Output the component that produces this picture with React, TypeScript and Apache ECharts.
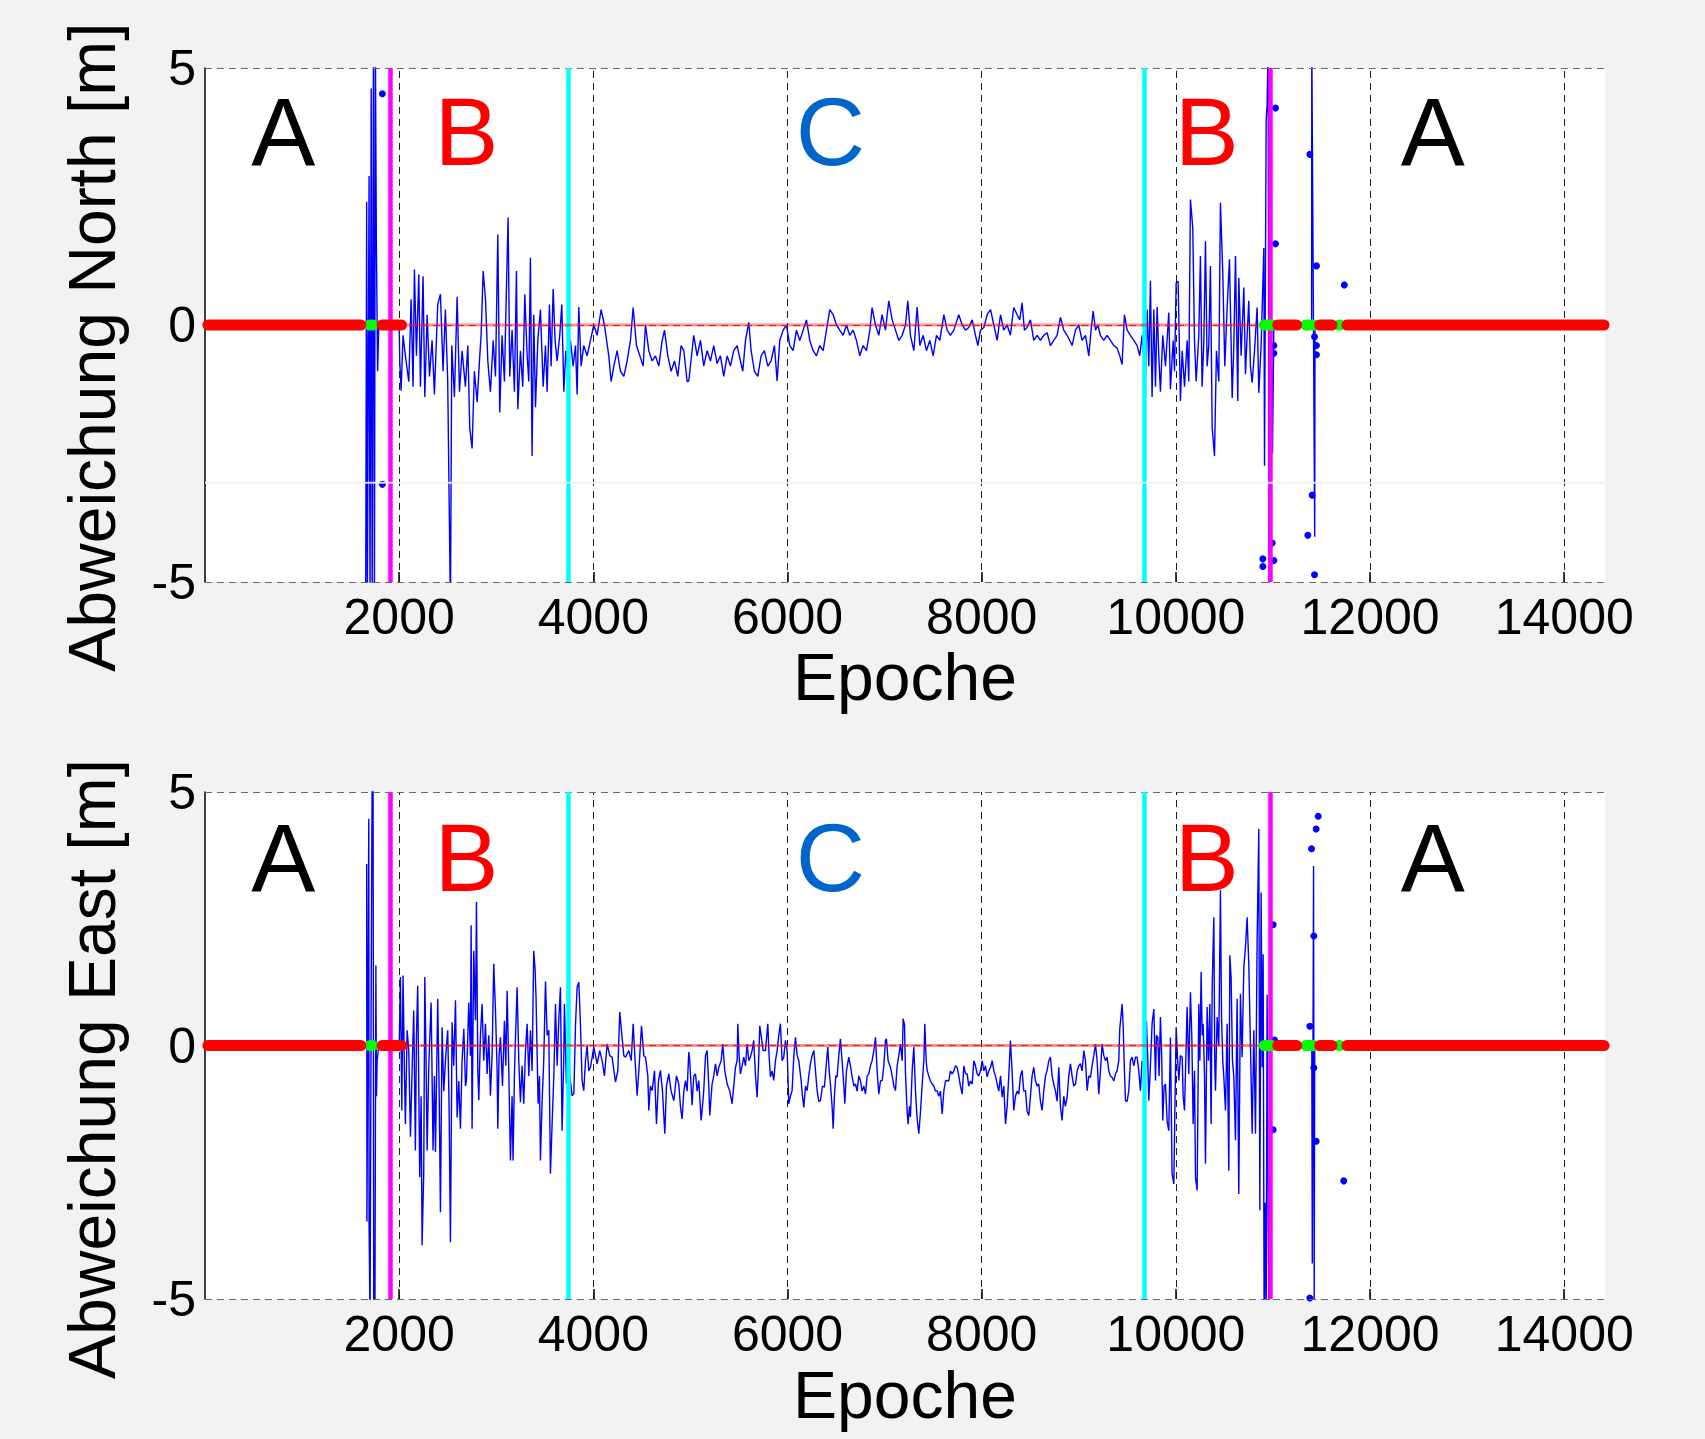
import React, { useEffect, useRef } from "react";
import * as echarts from "echarts";

const FONT = "'Liberation Sans', Arial, Helvetica, sans-serif";
const X_MAX = 14420;
const xTicks = [2000, 4000, 6000, 8000, 10000, 12000, 14000];
const yTicks = [-5, 0, 5];
const cyanX = [3744, 9670];
const magentaX = [1910, 10968];
const redSegments = [[30, 1606], [1823, 2024], [11049, 11244], [11481, 11608], [11762, 14410]];
const greenSegments = [[1700, 1725], [10911, 10990], [11340, 11420], [11680, 11690]];
const letters = ["A", "B", "C", "B", "A"];
const letterX = [806, 2693, 6442, 10317, 12646];
const letterColors = ["#000000", "#ff0000", "#0066cc", "#ff0000", "#000000"];
const letterYNorth = 3.77;
const letterYEast = 3.71;
const northFaintY = -3.07;

const northLine: [number, number][] = [
  [1655,-5.5],[1665,2.4],[1672,-5.5],[1690,2.9],[1700,-5.5],[1712,4.6],[1722,-5.5],[1735,5.5],[1745,-5.5],[1755,5.5],[1765,1.6],[1778,-0.9],[1790,0],[2000,0],
  [2006,-0.7],[2020,-1.28],[2040,-0.2],[2064,-0.6],[2099,-1.1],[2123,0.5],[2143,-1.2],[2157,1.08],[2178,-0.6],[2202,0.98],[2219,-1.2],[2246,0.95],[2264,-1.4],[2288,0.2],[2312,-1.0],[2339,-0.3],[2363,-1.35],[2397,0.4],[2425,0.6],[2452,-0.9],[2476,0.3],[2500,-1.1],[2528,-5.5],[2542,-0.4],[2569,-1.4],[2597,0.55],[2621,-1.3],[2648,-0.5],[2682,-1.2],[2707,-0.4],[2727,-2.0],[2751,-2.4],[2775,-0.9],[2803,-1.5],[2830,-0.6],[2844,-0.2],[2865,1.05],[2889,0.5],[2913,-0.7],[2940,-1.3],[2968,-0.3],[2992,-1.0],[3016,1.76],[3036,-1.7],[3060,-0.2],[3084,-1.1],[3101,0.4],[3122,2.09],[3139,-1.0],[3163,-0.1],[3187,-1.3],[3208,1.05],[3222,-1.64],[3249,-0.5],[3273,-1.2],[3294,0.6],[3318,-0.6],[3335,-1.1],[3352,1.31],[3369,-2.55],[3386,0.2],[3404,-1.6],[3428,-0.3],[3455,0.3],[3483,-1.2],[3507,-0.4],[3524,-1.3],[3548,0.4],[3565,-0.8],[3586,0.7],[3606,-0.3],[3627,-0.7],[3654,-0.2],[3675,0.4],[3696,-1.3],[3716,-0.5],[3737,-0.9],[3764,-0.3],[3792,-0.8],[3816,-0.4],[3833,-1.35],[3850,0.35],[3874,-0.8],[3901,-0.4],[3936,-0.6],[3970,-0.3],[4005,0.0],[4039,-0.2],[4080,0.3],[4114,0.0],[4159,-0.6],[4183,-1.1],[4211,-0.8],[4245,-0.5],[4279,-0.9],[4314,-1.0],[4348,-0.7],[4382,-0.3],[4410,0.34],[4444,-0.4],[4479,-0.6],[4513,-0.8],[4537,0.0],[4571,-0.5],[4606,-0.7],[4640,-0.6],[4674,-0.8],[4709,-0.3],[4733,-0.1],[4767,-0.6],[4801,-0.9],[4836,-0.7],[4870,-1.0],[4904,-0.4],[4932,-0.5],[4966,-1.1],
  [4983,-1.09],[5034,-0.2],[5069,-0.6],[5103,-0.3],[5137,-0.8],[5172,-0.5],[5206,-0.7],[5240,-0.4],[5275,-0.75],[5309,-0.6],[5343,-1.0],[5378,-0.6],[5412,-0.8],[5446,-0.5],[5481,-0.4],[5515,-0.7],[5539,-0.9],[5567,-0.3],[5601,0.05],[5625,-0.5],[5659,-0.9],[5694,-1.0],[5728,-0.6],[5762,-0.5],[5797,-0.8],[5831,-0.7],[5865,-0.4],[5893,-1.09],[5920,-0.3],[5955,-0.1],[5989,0.0],[6023,-0.4],[6058,-0.5],[6092,-0.1],[6126,-0.3],[6161,-0.1],[6195,0.1],[6229,-0.3],[6264,-0.5],[6298,-0.6],[6332,-0.4],[6367,-0.5],[6401,-0.1],[6435,0.3],[6470,0.2],[6504,0.0],[6538,-0.1],[6573,-0.2],[6607,0.0],[6641,-0.2],[6676,-0.1],[6710,-0.3],[6744,-0.6],[6779,-0.4],[6813,-0.5],[6848,-0.1],[6871,0.34],[6906,0.0],[6940,-0.2],[6974,0.2],[7009,-0.1],[7043,0.47],[7078,0.1],[7112,-0.1],[7146,-0.3],[7181,-0.2],[7215,0.0],[7239,0.47],[7266,-0.2],[7301,-0.5],[7335,0.35],[7363,-0.4],[7397,-0.2],[7431,-0.5],[7466,-0.3],[7500,-0.6],[7534,-0.2],[7569,-0.3],[7610,0.2],[7644,-0.1],[7678,-0.2],[7713,-0.1],[7764,0.2],[7799,0.0],[7833,-0.1],[7867,-0.05],[7902,0.1],[7936,-0.2],[7960,-0.4],[7988,-0.1],[8022,-0.05],[8056,0.2],[8091,0.3],[8125,0.0],[8159,-0.3],[8194,0.2],
  [8227,-0.1],[8262,0.0],[8296,-0.2],[8330,0.34],[8365,0.2],[8392,0.1],[8416,0.43],[8440,-0.1],[8468,-0.05],[8502,0.1],[8536,-0.3],[8571,-0.2],[8605,-0.3],[8639,-0.2],[8674,-0.15],[8708,-0.4],[8742,-0.3],[8777,-0.2],[8811,0.15],[8845,-0.1],[8880,-0.2],[8907,-0.3],[8931,-0.4],[8966,-0.1],[9000,0.0],[9034,-0.3],[9069,-0.2],[9103,-0.6],[9127,-0.1],[9148,0.27],[9172,-0.1],[9196,0.0],[9223,-0.2],[9258,-0.3],[9292,-0.2],[9326,-0.3],[9361,-0.4],[9395,-0.45],[9422,-0.6],[9446,-0.77],[9470,0.2],[9498,-0.1],[9532,-0.2],[9567,-0.3],[9601,-0.4],[9628,-0.6],[9652,-0.2],[9687,-1.0],[9704,0.3],[9721,-0.8],[9738,0.86],[9755,-1.4],[9773,0.3],[9790,-1.2],[9807,0.35],[9824,-0.6],[9841,-1.3],[9865,-0.2],[9893,-0.8],[9927,0.24],[9944,-1.25],[9972,-0.3],[9986,-0.9],[10003,0.82],[10023,0.85],[10047,-1.48],[10065,-0.5],[10089,-1.2],[10116,-0.3],[10133,-1.1],[10150,2.44],[10174,1.89],[10192,-0.3],[10209,-1.1],[10236,-0.2],[10253,1.34],[10270,-1.2],[10288,-0.3],[10305,1.63],[10322,-0.8],[10339,-0.4],[10356,1.15],[10374,-2.0],[10398,-2.55],[10418,-0.5],[10442,-1.1],[10459,2.38],[10483,1.02],[10504,-0.8],[10528,0.34],[10552,1.28],[10580,-1.42],[10597,-0.4],[10614,1.34],[10638,-1.48],[10648,0.92],[10672,-0.6],[10700,0.73],[10717,-0.96],[10734,-0.2],[10751,0.47],[10768,-0.8],[10786,-1.12],[10810,-0.5],[10837,0.34],[10854,-1.32],[10878,-0.4],[10906,1.5],[10913,-2.74],[10930,3.97],[10940,4.3],[10950,5.5],[10961,-5.5],[10981,0.7],[10995,-2.5],[11009,0],
  [11398,0],[11400,5.5],[11430,-4.12],[11433,0]
];

const eastLine: [number, number][] = [
  [1665,3.58],[1668,-3.47],[1687,4.47],[1690,-3.5],[1700,-5.5],[1712,1.2],[1722,5.5],[1731,5.5],[1738,-5.5],[1750,-5.5],[1760,1.58],[1766,-1.0],[1773,-0.3],[1790,0],[2000,0],
  [2013,1.35],[2027,-1.28],[2040,1.38],[2054,-0.5],[2064,-1.55],[2082,0.3],[2099,-0.1],[2116,-1.8],[2133,-0.5],[2150,0.69],[2167,-2.07],[2178,0.2],[2191,1.18],[2212,-2.6],[2226,-1.0],[2236,-3.94],[2253,-2.5],[2264,1.35],[2277,-0.3],[2288,-2.07],[2305,-0.4],[2329,0.85],[2349,-2.07],[2363,-0.6],[2374,-2.1],[2397,0.92],[2411,-0.8],[2425,-3.29],[2442,0.36],[2459,-0.9],[2480,-0.2],[2500,0.3],[2514,-1.2],[2528,-3.88],[2545,0.46],[2562,-0.4],[2580,0.89],[2597,-1.42],[2614,-0.7],[2631,-1.64],[2648,-0.3],[2666,0.33],[2683,-0.8],[2693,-0.69],[2717,0.85],[2734,-0.2],[2741,2.37],[2751,-1.64],[2768,1.87],[2786,0.5],[2796,2.83],[2810,-0.5],[2820,-1.08],[2837,0.2],[2854,0.82],[2871,-0.3],[2889,0.43],[2906,-0.56],[2923,0.2],[2940,-0.99],[2957,-0.2],[2974,1.61],[2992,0.69],[3009,-0.5],[3016,-1.64],[3029,-0.2],[3043,0.16],[3064,-0.8],[3084,0.49],[3098,-0.4],[3112,1.08],[3129,-0.5],[3146,-2.27],[3163,-1.0],[3173,-2.27],[3187,-0.6],[3198,0.16],[3215,1.15],[3232,-0.3],[3249,-1.12],[3266,-0.4],[3283,-1.15],[3301,-0.1],[3318,0.43],[3335,-0.6],[3352,0.3],[3369,-0.5],[3386,1.87],[3400,1.5],[3410,0.92],[3431,-1.15],[3445,-0.6],[3455,-2.27],[3472,-1.12],[3489,-0.3],[3507,1.26],[3524,0.2],[3541,0.3],[3558,-2.53],[3575,-1.55],[3593,-0.6],[3610,0.82],[3627,-0.4],[3644,0.5],[3661,1.15],[3678,-1.68],[3696,-0.2],[3702,0.82],[3723,-0.76],[3737,0.2],[3757,-0.6],[3781,-0.99],[3799,-0.95],[3816,0.4],[3833,1.15],[3850,1.25],[3867,0.43],[3884,-0.7],[3901,-0.89],[3919,-0.3],[3936,0.0],[3953,-0.5],[3970,-0.43],[4005,-0.03],[4039,-0.36],[4066,-0.1],[4090,-0.3],[4114,-0.6],[4142,0.03],[4169,-0.2],[4193,-0.23],[4228,-0.72],[4252,-0.5],[4272,0.66],[4296,0.16],[4314,-0.2],[4331,-0.23],[4365,-0.1],[4390,-0.3],[4410,0.43],[4430,-0.3],[4451,-0.99],[4472,-0.4],[4496,0.39],[4520,-0.2],[4537,-0.23],[4561,-0.6],[4571,-1.28],[4588,-0.8],[4606,-0.89],[4630,-0.5],[4650,-1.55],[4671,-0.7],[4691,-0.49],[4712,-0.9],[4736,-1.74],[4753,-0.8],[4777,-0.56],[4801,-0.9],[4829,-1.09],[4856,-0.6],[4880,-0.76],[4897,-1.2],[4914,-1.45],[4932,-0.9],[4949,-0.69],[4966,-0.9],[4983,-0.13],
  [4993,-0.3],[5017,-1.18],[5034,-0.6],[5052,-0.56],[5069,-0.9],[5086,-0.69],[5110,-1.48],[5124,-1.2],[5137,-0.89],[5155,-0.2],[5172,-0.1],[5189,-0.8],[5199,-1.38],[5223,-0.76],[5240,-0.6],[5258,-0.36],[5275,-0.6],[5292,-0.43],[5316,-0.3],[5333,0.03],[5354,-0.5],[5378,-0.76],[5405,-0.9],[5429,-1.15],[5446,-0.8],[5464,-0.43],[5481,-0.3],[5488,0.43],[5501,-0.2],[5515,-0.56],[5532,-0.4],[5549,-0.23],[5567,-0.4],[5584,0.03],[5601,-0.3],[5618,-0.23],[5635,-0.1],[5652,0.1],[5670,-0.6],[5687,-1.02],[5701,-0.4],[5714,0.39],[5728,0.2],[5749,-0.1],[5773,-0.1],[5797,0.43],[5810,-0.2],[5824,-0.62],[5841,-0.5],[5858,-0.69],[5876,-0.3],[5893,-0.1],[5910,0.2],[5927,0.43],[5944,-0.3],[5961,-0.23],[5979,0.1],[5996,-0.1],[6013,-1.15],[6030,-1.0],[6047,-0.89],[6065,-0.2],[6082,0.16],[6099,-0.2],[6116,-0.3],[6140,-0.69],[6154,-1.0],[6168,-1.22],[6185,-0.8],[6202,-0.89],[6219,-0.6],[6236,-0.36],[6253,-0.2],[6271,-0.1],[6288,-0.5],[6305,-0.89],[6322,-1.1],[6339,-1.09],[6360,-0.8],[6380,-0.82],[6398,-0.4],[6415,-0.03],[6429,-0.5],[6442,-0.76],[6459,-1.2],[6470,-1.64],[6483,-1.0],[6497,-0.6],[6511,-0.62],[6528,-0.2],[6545,0.13],[6562,-0.3],[6580,-0.8],[6590,-1.15],[6607,-0.5],[6631,-0.23],[6648,-0.4],[6666,-0.62],[6683,-0.8],[6700,-0.76],[6717,-0.9],[6734,-0.6],[6751,-0.69],[6768,-0.9],[6786,-0.8],[6803,-0.96],[6820,-0.6],[6837,-0.56],[6854,-0.4],[6871,-0.3],[6889,-0.1],[6906,0.16],[6923,-0.5],[6940,-0.96],[6957,-0.7],[6975,-0.69],[6992,-0.4],[7009,0.1],[7019,0.13],[7036,-0.3],[7060,-0.43],[7078,-0.6],[7095,-0.8],[7112,-0.89],[7129,-0.4],[7146,-0.2],[7163,0.03],[7181,-0.3],[7191,0.53],[7205,0.4],[7215,-0.56],[7232,-1.3],[7242,-1.55],[7256,-1.2],[7266,-1.41],[7284,-0.5],[7301,-0.03],[7318,-0.9],[7335,-1.45],[7352,-1.74],[7370,-1.3],[7387,-0.76],[7404,-0.3],[7414,0.43],[7428,-0.3],[7438,-0.49],[7455,-0.6],[7472,-0.7],[7490,-0.76],[7507,-0.8],[7524,-0.9],[7541,-0.89],[7558,-1.0],[7575,-0.9],[7593,-1.35],[7610,-0.9],[7627,-0.7],[7644,-0.69],[7661,-0.7],[7678,-0.5],[7696,-0.56],[7713,-0.5],[7730,-0.4],[7747,-0.43],[7764,-0.6],[7781,-0.8],[7799,-0.96],[7816,-0.4],[7833,-0.56],[7850,-0.56],[7867,-0.8],[7884,-0.7],[7902,-0.76],[7919,-0.3],[7936,-0.4],[7953,-0.56],[7970,-0.6],[7988,-0.49],[8005,-0.3],[8022,-0.5],[8039,-0.4],[8056,-0.62],[8073,-0.5],[8091,-0.43],[8108,-0.3],[8125,-0.5],[8142,-0.6],[8159,-0.76],[8176,-0.9],[8194,-0.6],[8211,-1.02],[8228,-0.8],[8245,-1.55],[8262,-1.2],[8279,-0.6],
  [8296,0.1],[8313,-0.5],[8330,-1.28],[8348,-1.0],[8365,-0.9],[8382,-0.96],[8399,-0.6],[8416,-0.49],[8433,-0.9],[8451,-0.89],[8468,-1.3],[8485,-1.38],[8502,-1.0],[8519,-0.6],[8536,-0.43],[8554,-0.7],[8571,-0.8],[8588,-0.76],[8605,-1.1],[8622,-1.28],[8639,-0.9],[8657,-0.6],[8674,-0.49],[8691,-0.3],[8708,-0.23],[8725,-0.6],[8742,-0.76],[8760,-0.9],[8777,-1.1],[8794,-0.43],[8811,-1.2],[8828,-1.48],[8845,-1.0],[8862,-1.2],[8880,-1.02],[8897,-0.6],[8914,-0.36],[8931,-0.6],[8948,-0.8],[8966,-0.76],[8983,-0.5],[9000,-0.4],[9017,-0.36],[9034,-0.5],[9052,-0.1],[9069,-0.3],[9086,-0.89],[9103,-0.6],[9120,-0.63],[9137,-0.4],[9155,-0.2],[9172,0.03],[9189,-0.3],[9206,-0.96],[9223,-0.5],[9240,0.03],[9258,-0.2],[9275,-0.3],[9292,-0.23],[9309,-0.5],[9326,-0.6],[9343,-0.63],[9361,-0.7],[9378,-0.56],[9395,-0.49],[9412,-0.3],[9422,0.33],[9436,0.6],[9446,0.82],[9457,0.4],[9470,-0.5],[9481,-1.09],[9498,-1.1],[9515,-0.89],[9532,-0.3],[9549,-0.23],[9567,-0.4],[9584,-0.23],[9601,-0.23],[9618,-0.5],[9635,-0.89],[9652,-0.3],[9687,-0.5],[9697,0.49],[9711,-0.3],[9721,-1.09],[9738,-0.4],[9755,0.43],[9773,0.72],[9790,-0.69],[9800,0.2],[9814,0.16],[9827,-0.6],[9841,0.56],[9855,-0.3],[9865,-1.48],[9879,-0.8],[9893,-0.76],[9910,-1.5],[9927,-1.68],[9944,0.16],[9961,-2.53],[9979,-2.73],[9992,-1.0],[10003,0.36],[10016,-0.2],[10030,-0.69],[10047,-0.2],[10065,-0.23],[10075,-1.0],[10089,-1.28],[10102,-0.3],[10116,0.76],[10133,-0.56],[10150,1.05],[10164,0.2],[10178,-1.55],[10192,-0.5],[10202,-2.6],[10219,-2.86],[10236,0.82],[10247,-0.3],[10260,1.45],[10271,0.2],[10281,0.43],[10295,-0.6],[10305,-2.33],[10322,0.76],[10336,-0.3],[10350,0.82],[10363,-1.55],[10374,1.15],[10391,2.53],[10401,-0.4],[10408,-0.89],[10425,0.56],[10442,0.0],[10459,3.06],[10470,0.6],[10483,-0.3],[10494,-0.62],[10511,-1.28],[10528,0.43],[10545,-2.47],[10556,1.78],[10569,1.34],[10583,-0.3],[10597,-0.62],[10614,-1.87],[10631,0.92],[10648,-2.93],[10665,1.02],[10682,-0.23],[10700,1.55],[10717,1.94],[10734,2.53],[10751,1.61],[10768,0.03],[10786,-1.74],[10803,0.3],[10820,-1.74],[10837,2.1],[10854,4.27],[10865,-3.25],[10878,3.02],[10889,-0.43],[10899,1.8],[10909,-5.5],[10920,-3.1],[10930,-5.5],[10940,1.0],[10957,-5.5],[10981,0.0],[11009,0],
  [11400,0],[11405,-4.3],[11418,3.54],[11425,-5.0],[11430,0]
];

const northDots: [number, number][] = [
  [1827,4.5],[1827,-3.1],[10896,-4.55],[10896,-4.7],[10992,-4.24],[11009,-0.4],[11009,-0.55],[11009,-4.58],[11026,4.22],[11026,1.58],
  [11359,-4.09],[11380,3.32],[11404,-3.31],[11428,-0.23],[11428,-4.86],[11448,1.15],[11448,-0.4],[11448,-0.58],[11735,0.78]
];

const eastDots: [number, number][] = [
  [11002,2.38],[11016,0.11],[11002,-1.66],[11466,4.52],[11445,4.27],[11397,3.88],[11421,2.16],[11380,0.38],[11421,-0.44],[11445,-1.89],[11380,-4.98],[11729,-2.67]
];

function panelSeries(idx: number, line: [number, number][], dots: [number, number][], letterY: number, faint: number | null) {
  const ax = { xAxisIndex: idx, yAxisIndex: idx };
  const s: any[] = [];
  s.push({
    type: "line", ...ax, data: [], z: 1, silent: true, showSymbol: false,
    markLine: {
      symbol: ["none", "none"], silent: true, animation: false, label: { show: false },
      emphasis: { disabled: true },
      data: [
        ...xTicks.map((v) => ({ xAxis: v, lineStyle: { color: "#1a1a1a", type: [7, 5], width: 1 } })),
        ...yTicks.map((v) => ({ yAxis: v, lineStyle: { color: "#6a6a6a", type: [7, 5], width: 1.2 } })),
      ],
    },
  });
  s.push({
    type: "line", ...ax, data: line, z: 2, showSymbol: false, clip: true,
    lineStyle: { color: "#0000ff", width: 1.4, opacity: 1 }, silent: true,
  });
  s.push({
    type: "scatter", ...ax, data: dots, z: 3, symbolSize: 7,
    itemStyle: { color: "#0000ff", opacity: 1 }, silent: true,
  });
  s.push({
    type: "line", ...ax, data: [], z: 4, silent: true, showSymbol: false,
    markLine: {
      symbol: ["none", "none"], silent: true, animation: false, label: { show: false },
      emphasis: { disabled: true },
      data: [
        ...cyanX.map((v) => ({ xAxis: v, lineStyle: { color: "#00ffff", type: "solid", width: 4.5 } })),
        ...magentaX.map((v) => ({ xAxis: v, lineStyle: { color: "#ff00ff", type: "solid", width: 4.5 } })),
      ],
    },
  });
  s.push({
    type: "line", ...ax, data: [[0, 0], [X_MAX, 0]], z: 5, showSymbol: false, silent: true,
    lineStyle: { color: "rgba(255,0,0,0.45)", width: 3 },
  });
  greenSegments.forEach((g) => {
    s.push({
      type: "line", ...ax, data: [[g[0], 0], [g[1], 0]], z: 6, showSymbol: false, silent: true, clip: false,
      lineStyle: { color: "#00ff00", width: 11, cap: "round", opacity: 1 },
    });
  });
  redSegments.forEach((r) => {
    s.push({
      type: "line", ...ax, data: [[r[0], 0], [r[1], 0]], z: 7, showSymbol: false, silent: true, clip: false,
      lineStyle: { color: "#ff0000", width: 11, cap: "round", opacity: 1 },
    });
  });
  s.push({
    type: "scatter", ...ax, z: 8, symbolSize: 1, silent: true,
    itemStyle: { color: "rgba(0,0,0,0)", opacity: 1 },
    label: { show: true, position: "inside", fontSize: 96, fontFamily: FONT, opacity: 1 },
    data: letters.map((t, i) => ({
      value: [letterX[i], letterY],
      itemStyle: { opacity: 1 },
      label: { formatter: t, color: letterColors[i] },
    })),
  });
  if (faint !== null) {
    s.push({
      type: "line", ...ax, data: [[0, faint], [X_MAX, faint]], z: 9, showSymbol: false, silent: true,
      lineStyle: { color: "rgba(238,238,238,0.9)", width: 2 },
    });
  }
  return s;
}

function xAxisCfg(idx: number) {
  return {
    type: "value", gridIndex: idx, min: 0, max: X_MAX, interval: 2000,
    axisLine: { show: false, onZero: false },
    axisTick: { show: true, inside: true, length: 10, customValues: xTicks, lineStyle: { color: "#000", width: 1.5 } },
    axisLabel: {
      fontSize: 50, lineHeight: 46, color: "#000", margin: 12, fontFamily: FONT, customValues: xTicks,
      formatter: (v: number) => (xTicks.indexOf(v) >= 0 ? String(v) : ""),
    },
    splitLine: { show: false },
  };
}

function yAxisCfg(idx: number) {
  return {
    type: "value", gridIndex: idx, min: -5, max: 5, interval: 5,
    axisLine: { show: true, onZero: false, lineStyle: { color: "#000", width: 1.5 } },
    axisTick: { show: false },
    axisLabel: { fontSize: 50, color: "#000", margin: 9, fontFamily: FONT },
    splitLine: { show: false },
  };
}

export default function App() {
  const ref = useRef<HTMLDivElement>(null);
  useEffect(() => {
    if (!ref.current) return;
    const chart = echarts.init(ref.current, null, { renderer: "svg" });
    const textStyle = (text: string, x: number, y: number, rot: number) => ({
      type: "text", x, y, rotation: rot, silent: true,
      style: { text, fill: "#000", fontSize: 66, lineHeight: 56, fontFamily: FONT, textAlign: "center", textVerticalAlign: "middle" },
    });
    chart.setOption({
      animation: false,
      backgroundColor: "#f2f2f2",
      grid: [
        { left: 205, top: 68, width: 1400, height: 514, show: true, backgroundColor: "#ffffff", borderWidth: 0 },
        { left: 205, top: 792, width: 1400, height: 507, show: true, backgroundColor: "#ffffff", borderWidth: 0 },
      ],
      xAxis: [xAxisCfg(0), xAxisCfg(1)],
      yAxis: [yAxisCfg(0), yAxisCfg(1)],
      series: [
        ...panelSeries(0, northLine, northDots, letterYNorth, northFaintY),
        ...panelSeries(1, eastLine, eastDots, letterYEast, null),
      ],
      graphic: [
        textStyle("Abweichung North [m]", 92, 347, Math.PI / 2),
        textStyle("Abweichung East [m]", 92, 1069, Math.PI / 2),
        textStyle("Epoche", 905, 677, 0),
        textStyle("Epoche", 905, 1395, 0),
      ],
    });
    return () => chart.dispose();
  }, []);
  return <div ref={ref} style={{ position: "absolute", left: 0, top: 0, width: 1705, height: 1439 }} />;
}
